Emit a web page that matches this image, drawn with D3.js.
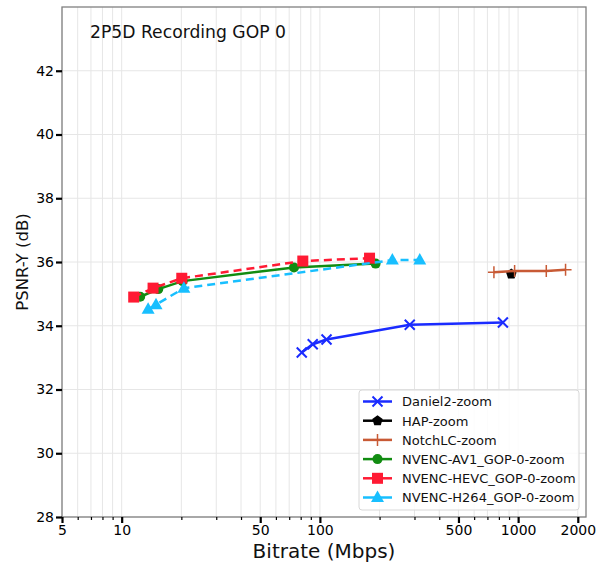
<!DOCTYPE html>
<html><head><meta charset="utf-8">
<script src="https://cdn.jsdelivr.net/npm/d3@7"></script>
<style>body{margin:0;background:#fff;} svg{display:block;font-family:"DejaVu Sans",sans-serif;}</style>
</head><body>
<script>
// ---- data ----
const seriesNames = ["Daniel2-zoom","HAP-zoom","NotchLC-zoom","NVENC-AV1_GOP-0-zoom","NVENC-HEVC_GOP-0-zoom","NVENC-H264_GOP-0-zoom"];
const daniel2Bitrate = [81, 92, 108, 284, 838];
const daniel2Psnr    = [33.16, 33.42, 33.57, 34.03, 34.10];
const hapBitrate = [924];
const hapPsnr    = [35.62];
const notchBitrate = [755, 960, 1387, 1735];
const notchPsnr    = [35.68, 35.72, 35.72, 35.76];
const av1Bitrate = [12.4, 15.3, 20.3, 74, 191];
const av1Psnr    = [34.91, 35.15, 35.40, 35.83, 35.95];
const hevcBitrate = [11.5, 14.4, 20.1, 82, 178];
const hevcPsnr    = [34.90, 35.18, 35.49, 36.03, 36.12];
const h264Bitrate = [13.6, 14.9, 20.6, 232, 319];
const h264Psnr    = [34.52, 34.66, 35.18, 36.06, 36.06];
const xTicks = [5, 10, 50, 100, 500, 1000, 2000];
const yTicks = [28, 30, 32, 34, 36, 38, 40, 42];
const titleText = "2P5D Recording GOP 0";

const W = 607, H = 567;
const m = {l: 62, r: 21, t: 7, b: 50};
const svg = d3.select("body").append("svg").attr("width", W).attr("height", H);
const x = d3.scaleLog().domain([5, 2200]).range([m.l, W - m.r]);
const y = d3.scaleLinear().domain([28, 44]).range([H - m.b, m.t]);

// minor x values
const minor = [];
for (let d = 1; d <= 1000; d *= 10) for (let k = 1; k <= 9; k++) { const v = k * d; if (v >= 5 && v <= 2200) minor.push(v); }

// grid
const g = svg.append("g");
g.selectAll(".vx").data(minor).enter().append("line")
  .attr("x1", d => x(d)).attr("x2", d => x(d)).attr("y1", m.t).attr("y2", H - m.b)
  .attr("stroke", "#e6e6e6").attr("stroke-width", 1);
g.selectAll(".hy").data(yTicks).enter().append("line")
  .attr("x1", m.l).attr("x2", W - m.r).attr("y1", d => y(d)).attr("y2", d => y(d))
  .attr("stroke", "#e6e6e6").attr("stroke-width", 1);

// frame
svg.append("rect").attr("x", m.l).attr("y", m.t).attr("width", W - m.r - m.l).attr("height", H - m.b - m.t)
  .attr("fill", "none").attr("stroke", "#808080").attr("stroke-width", 1.3);

// axes
const xAxis = svg.append("g").attr("transform", `translate(0,${H - m.b})`)
  .call(d3.axisBottom(x).tickValues(xTicks).tickFormat(d3.format("d")).tickSize(6).tickPadding(2));
const xMinor = svg.append("g").attr("transform", `translate(0,${H - m.b})`)
  .call(d3.axisBottom(x).tickValues(minor.filter(v => !xTicks.includes(v))).tickFormat("").tickSize(3));
const yAxis = svg.append("g").attr("transform", `translate(${m.l},0)`)
  .call(d3.axisLeft(y).tickValues(yTicks).tickSize(6).tickPadding(2));
[xAxis, xMinor, yAxis].forEach(a => { a.select(".domain").remove(); a.selectAll("line").attr("stroke", "#000").attr("stroke-width", 2.2); });
xMinor.selectAll("line").attr("stroke-width", 1.2);
xAxis.selectAll("text").attr("font-size", 14).attr("fill", "#000").attr("font-family", "DejaVu Sans");
yAxis.selectAll("text").attr("font-size", 14).attr("fill", "#000").attr("font-family", "DejaVu Sans");

// labels
svg.append("text").attr("x", 90).attr("y", 38).attr("font-size", 17.2).attr("fill", "#111").text(titleText);
svg.append("text").attr("x", (m.l + W - m.r) / 2).attr("y", 558).attr("text-anchor", "middle").attr("font-size", 20).attr("fill", "#111").text("Bitrate (Mbps)");
svg.append("text").attr("transform", `translate(28,${y(36)}) rotate(-90)`).attr("text-anchor", "middle").attr("font-size", 16.5).attr("fill", "#111").text("PSNR-Y (dB)");

// series
const series = [
  {name: seriesNames[0], xs: daniel2Bitrate, ys: daniel2Psnr, color: "#1a2bff", dash: null, marker: "x"},
  {name: seriesNames[1], xs: hapBitrate, ys: hapPsnr, color: "#000000", dash: null, marker: "p"},
  {name: seriesNames[2], xs: notchBitrate, ys: notchPsnr, color: "#c85a35", dash: null, marker: "+"},
  {name: seriesNames[3], xs: av1Bitrate, ys: av1Psnr, color: "#118c11", dash: null, marker: "o"},
  {name: seriesNames[4], xs: hevcBitrate, ys: hevcPsnr, color: "#ff1a33", dash: "8,5", marker: "s"},
  {name: seriesNames[5], xs: h264Bitrate, ys: h264Psnr, color: "#18bfff", dash: "8,5", marker: "^"},
];

function drawMarker(sel, type, color) {
  if (type === "x") {
    sel.append("path").attr("d", "M-5,-5L5,5M-5,5L5,-5").attr("stroke", color).attr("stroke-width", 2).attr("fill", "none");
  } else if (type === "+") {
    sel.append("path").attr("d", "M-6,0L6,0M0,-6L0,6").attr("stroke", color).attr("stroke-width", 1.5).attr("fill", "none");
  } else if (type === "o") {
    sel.append("circle").attr("r", 5).attr("fill", color);
  } else if (type === "s") {
    sel.append("rect").attr("x", -5.5).attr("y", -5.5).attr("width", 11).attr("height", 11).attr("fill", color);
  } else if (type === "^") {
    sel.append("path").attr("d", "M0,-7L6.5,4.5L-6.5,4.5Z").attr("fill", color);
  } else if (type === "p") {
    const pts = d3.range(5).map(i => { const a = -Math.PI / 2 + i * 2 * Math.PI / 5; return [5.5 * Math.cos(a), 5.5 * Math.sin(a)]; });
    sel.append("path").attr("d", "M" + pts.join("L") + "Z").attr("fill", color);
  }
}

const line = d3.line().x(d => x(d[0])).y(d => y(d[1]));
series.forEach(s => {
  const pts = s.xs.map((v, i) => [v, s.ys[i]]);
  const sg = svg.append("g");
  sg.append("path").datum(pts).attr("d", line).attr("fill", "none").attr("stroke", s.color)
    .attr("stroke-width", 2.5).attr("stroke-dasharray", s.dash);
  pts.forEach(p => drawMarker(sg.append("g").attr("transform", `translate(${x(p[0])},${y(p[1])})`), s.marker, s.color));
});

// legend
const lg = svg.append("g").attr("transform", "translate(359,390)");
lg.append("rect").attr("width", 220).attr("height", 120).attr("rx", 3).attr("fill", "#fff").attr("fill-opacity", 0.85)
  .attr("stroke", "#d8d8d8").attr("stroke-width", 1);
series.forEach((s, i) => {
  const yy = 11.5 + i * 19.2;
  lg.append("line").attr("x1", 4).attr("x2", 33).attr("y1", yy).attr("y2", yy).attr("stroke", s.color).attr("stroke-width", 2.5);
  drawMarker(lg.append("g").attr("transform", `translate(18.5,${yy})`), s.marker, s.color);
  lg.append("text").attr("x", 43).attr("y", yy + 4.8).attr("font-size", 13).attr("fill", "#111").text(s.name);
});
</script>
</body></html>
